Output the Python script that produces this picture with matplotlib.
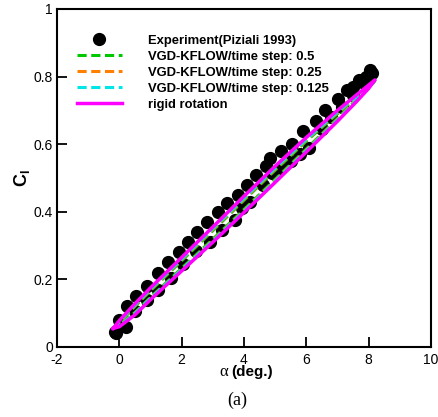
import matplotlib
matplotlib.use("Agg")
import matplotlib.pyplot as plt

plt.rcParams['font.family'] = ['Liberation Sans', 'DejaVu Sans']
plt.rcParams['mathtext.fontset'] = 'custom'
plt.rcParams['mathtext.rm'] = 'Liberation Sans'
plt.rcParams['mathtext.bf'] = 'Liberation Sans:bold'
plt.rcParams['axes.unicode_minus'] = False

# Experiment (Piziali 1993), upstroke then downstroke
exp_alpha = [-0.15, 0.0, 0.25, 0.55, 0.9, 1.25, 1.55, 1.9, 2.2, 2.5, 2.8, 3.15, 3.45,
             3.8, 4.1, 4.4, 4.7, 4.85, 5.2, 5.55, 5.9, 6.3, 6.6, 7.0, 7.3, 7.5, 7.7,
             7.9, 8.05, 8.1, 7.85, 7.5, 7.15, 6.8, 6.5, 6.1, 5.8, 5.5, 5.2, 4.9, 4.6,
             4.2, 3.95, 3.7, 3.3, 2.9, 2.45, 2.05, 1.65, 1.25, 0.9, 0.5, 0.2, -0.1]
exp_cl = [0.045, 0.08, 0.12, 0.15, 0.18, 0.22, 0.25, 0.28, 0.31, 0.34, 0.37, 0.40, 0.425,
          0.45, 0.48, 0.51, 0.535, 0.56, 0.58, 0.60, 0.64, 0.67, 0.70, 0.735, 0.76, 0.77, 0.79,
          0.80, 0.82, 0.81, 0.78, 0.745, 0.71, 0.68, 0.645, 0.59, 0.57, 0.55, 0.53, 0.515, 0.48,
          0.43, 0.41, 0.375, 0.345, 0.31, 0.285, 0.245, 0.205, 0.17, 0.14, 0.105, 0.06, 0.04]

# loop curves: alpha goes up on the upper branch and back down on the lower one
loop_alpha = [-0.2, 0.0, 0.5, 1.0, 2.0, 3.0, 4.0, 5.0, 6.0, 7.0, 7.6, 8.0, 8.2,
              8.0, 7.6, 7.0, 6.0, 5.0, 4.0, 3.0, 2.0, 1.0, 0.5, 0.0, -0.2]

cl_dt05 = [0.055, 0.072, 0.120, 0.166, 0.255, 0.344, 0.434, 0.523, 0.609, 0.690, 0.736, 0.769, 0.788,
           0.767, 0.731, 0.676, 0.586, 0.496, 0.407, 0.319, 0.233, 0.147, 0.102, 0.066, 0.055]
cl_dt025 = [0.055, 0.074, 0.122, 0.169, 0.258, 0.347, 0.437, 0.526, 0.612, 0.693, 0.739, 0.771, 0.789,
            0.766, 0.729, 0.674, 0.583, 0.493, 0.404, 0.316, 0.230, 0.145, 0.100, 0.064, 0.055]
cl_dt0125 = [0.055, 0.075, 0.124, 0.171, 0.260, 0.350, 0.440, 0.529, 0.614, 0.695, 0.741, 0.772, 0.789,
             0.766, 0.728, 0.672, 0.581, 0.491, 0.402, 0.314, 0.229, 0.144, 0.099, 0.063, 0.055]
cl_rigid = [0.055, 0.078, 0.128, 0.175, 0.265, 0.355, 0.446, 0.535, 0.620, 0.700, 0.745, 0.775, 0.790,
            0.765, 0.725, 0.668, 0.577, 0.487, 0.398, 0.310, 0.225, 0.140, 0.095, 0.060, 0.055]

fig = plt.figure(figsize=(4.39, 4.17), dpi=100)
ax = fig.add_axes([0.1298, 0.1679, 0.852, 0.8106])

ax.plot(exp_alpha, exp_cl, 'o', color='black', ms=8.5, label='Experiment(Piziali 1993)')
ax.plot(loop_alpha, cl_dt05, '--', color='#00c800', lw=2.2, dashes=(3, 1.5),
        label='VGD-KFLOW/time step: 0.5')
ax.plot(loop_alpha, cl_dt025, '--', color='#ff8000', lw=2.2, dashes=(3, 1.5),
        label='VGD-KFLOW/time step: 0.25')
ax.plot(loop_alpha, cl_dt0125, '--', color='#00e6e6', lw=2.2, dashes=(3, 1.5),
        label='VGD-KFLOW/time step: 0.125')
ax.plot(loop_alpha, cl_rigid, '-', color='#ff00ff', lw=2.5, label='rigid rotation')

ax.set_xlim(-2, 10)
ax.set_ylim(0, 1)
ax.set_xticks(range(-2, 11, 2))
ax.set_yticks([0, 0.2, 0.4, 0.6, 0.8, 1])
ax.set_yticklabels(['0', '0.2', '0.4', '0.6', '0.8', '1'])
ax.tick_params(direction='in', length=7, width=1.3, labelsize=10, pad=3)
ax.tick_params(axis='x', pad=4)
for s in ax.spines.values():
    s.set_linewidth(1.5)

ax.set_ylabel(r'$\mathbf{C}_\mathbf{l}$', fontsize=13, labelpad=1)

# x label: upright alpha plus bold units
ax.text(0.458, -0.075, 'α', transform=ax.transAxes, ha='right', va='center',
        fontsize=12, family=['Liberation Serif', 'DejaVu Serif'])
ax.text(0.466, -0.075, '(deg.)', transform=ax.transAxes, ha='left', va='center',
        fontsize=11, fontweight='bold')

fig.text(0.54, 0.04, '(a)', ha='center', va='center', fontsize=13,
         family=['Liberation Serif', 'DejaVu Serif'])

leg = ax.legend(loc='upper left', bbox_to_anchor=(0.04, 0.94), frameon=False,
                prop={'weight': 'bold', 'size': 9.4}, handlelength=3.4,
                handletextpad=2.0, labelspacing=0.3, borderaxespad=0.0)

fig.savefig('out.png', dpi=100)
